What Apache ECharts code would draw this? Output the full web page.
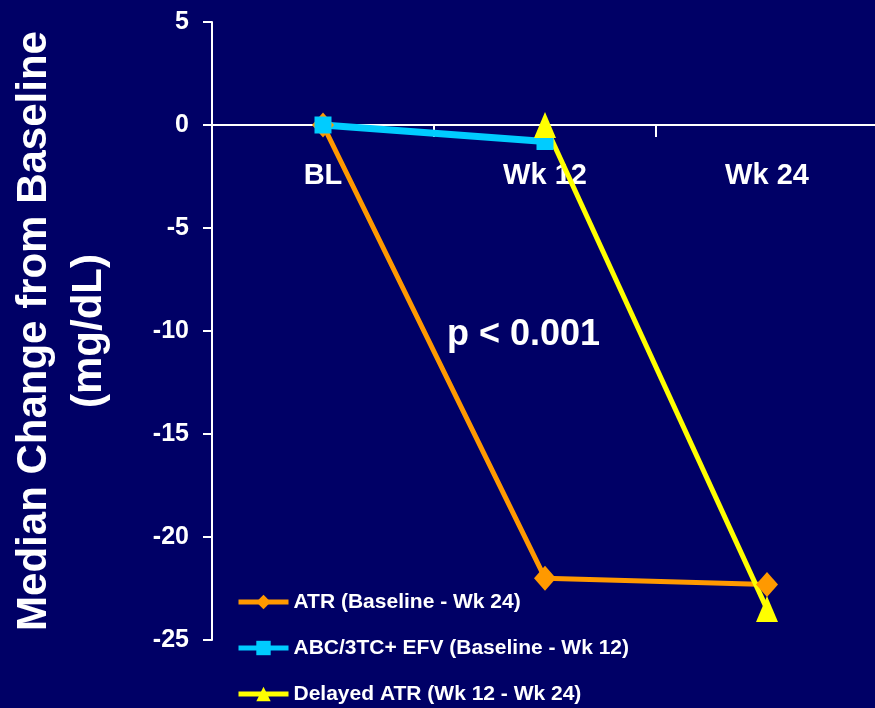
<!DOCTYPE html>
<html>
<head>
<meta charset="utf-8">
<script src="https://cdn.jsdelivr.net/npm/echarts@6/dist/echarts.min.js"></script>
<style>
html,body{margin:0;padding:0;background:#000066;}
#chart{width:875px;height:708px;}
</style>
</head>
<body>
<div id="chart"></div>
<script>
var categories = ['BL', 'Wk 12', 'Wk 24'];
var seriesNames = ['ATR (Baseline - Wk 24)', 'ABC/3TC+ EFV (Baseline - Wk 12)', 'Delayed ATR (Wk 12 - Wk 24)'];
var atrValues = [0, -22.0, -22.3];
var abcValues = [0, -0.8, null];
var delayedValues = [null, 0, -23.5];
var yTicks = {min: -25, max: 5, interval: 5};
var annotation = 'p < 0.001';
var yTitle = 'Median Change from Baseline\n(mg/dL)';

var font = 'Liberation Sans, Arial, sans-serif';
var chart = echarts.init(document.getElementById('chart'));
chart.setOption({
  backgroundColor: '#000066',
  animation: false,
  grid: {left: 212, top: 22, width: 666, bottom: 68, outerBoundsMode: 'none', containLabel: false},
  legend: {
    orient: 'vertical',
    left: 236,
    top: 591,
    padding: 0,
    itemWidth: 50,
    itemHeight: 18,
    itemGap: 24,
    lineStyle: {width: 5},
    textStyle: {color: '#fff', fontWeight: 'bold', fontSize: 21, lineHeight: 22, fontFamily: font},
    data: seriesNames
  },
  xAxis: {
    type: 'category',
    data: categories,
    boundaryGap: true,
    axisLine: {onZero: false, lineStyle: {color: '#fff', width: 2}},
    axisTick: {show: true, length: 12, lineStyle: {color: '#fff', width: 2}},
    axisLabel: {color: '#fff', fontWeight: 'bold', fontSize: 29, fontFamily: font, margin: 36},
    splitLine: {show: false}
  },
  yAxis: {
    type: 'value',
    min: yTicks.min, max: yTicks.max, interval: yTicks.interval,
    axisLine: {show: true, lineStyle: {color: '#fff', width: 2}},
    axisTick: {show: true, length: 9, lineStyle: {color: '#fff', width: 2}},
    axisLabel: {color: '#fff', fontWeight: 'bold', fontSize: 25, fontFamily: font, margin: 23},
    splitLine: {show: false},
    name: yTitle,
    nameLocation: 'middle',
    nameRotate: 90,
    nameGap: 95,
    nameTextStyle: {color: '#fff', fontWeight: 'bold', fontSize: 42, lineHeight: 55, fontFamily: font}
  },
  graphic: [{
    type: 'text',
    left: 447, top: 317,
    style: {text: annotation, fill: '#fff', font: 'bold 36px ' + font}
  }],
  series: [
    {
      name: seriesNames[0], type: 'line', data: atrValues,
      symbol: 'diamond', symbolSize: [22, 25],
      lineStyle: {color: '#FF9900', width: 5},
      itemStyle: {color: '#FF9900'}
    },
    {
      name: seriesNames[1], type: 'line', data: abcValues,
      symbol: 'rect', symbolSize: 17,
      lineStyle: {color: '#00CCFF', width: 7},
      itemStyle: {color: '#00CCFF'}
    },
    {
      name: seriesNames[2], type: 'line', data: delayedValues,
      symbol: 'triangle', symbolSize: [22, 26],
      lineStyle: {color: '#FFFF00', width: 5},
      itemStyle: {color: '#FFFF00'}
    }
  ]
});
// Move the category axis (line, ticks and labels) up to the value 0 line.
var zeroY = chart.convertToPixel({yAxisIndex: 0}, 0);
var bottomY = chart.convertToPixel({yAxisIndex: 0}, yTicks.min);
chart.setOption({xAxis: {offset: -(bottomY - zeroY)}});
</script>
</body>
</html>
